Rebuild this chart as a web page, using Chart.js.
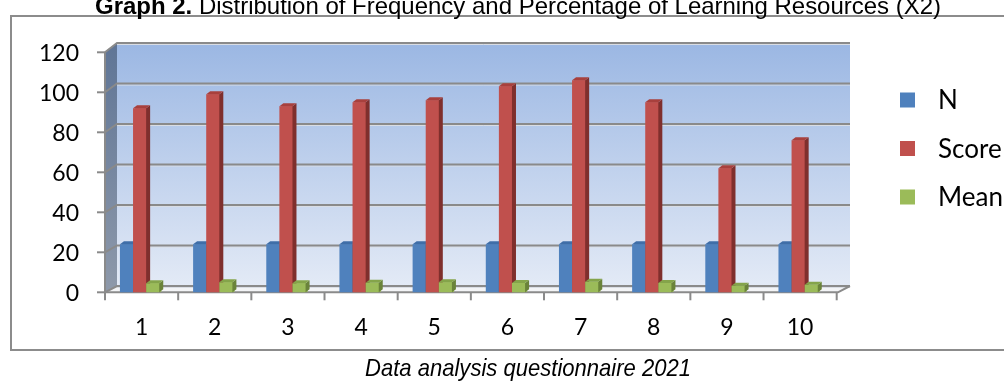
<!DOCTYPE html>
<html>
<head>
<meta charset="utf-8">
<script src="https://cdn.jsdelivr.net/npm/chart.js@4.4.1/dist/chart.umd.min.js"></script>
<style>
  html, body { margin: 0; padding: 0; background: #ffffff; overflow: hidden; }
  #wrap { position: relative; width: 1004px; height: 382px; }
</style>
</head>
<body>
<div id="wrap"><canvas id="c" width="1004" height="382"></canvas></div>
<script>
// ---- data ----
const categories = ['1', '2', '3', '4', '5', '6', '7', '8', '9', '10'];
const seriesNames = ['N', 'Score', 'Mean'];
const nValues = [24, 24, 24, 24, 24, 24, 24, 24, 24, 24];
const scoreValues = [92, 99, 93, 95, 96, 103, 106, 95, 62, 76];
const meanValues = [4.5, 5, 4.5, 4.8, 5, 4.6, 5.3, 4.6, 3.3, 3.8];
const yTickValues = [0, 20, 40, 60, 80, 100, 120];
const titleBold = 'Graph 2.';
const titleRest = ' Distribution of Frequency and Percentage of Learning Resources (X2)';
const captionText = 'Data analysis questionnaire 2021';

// ---- styling ----
const palette = {
  front: ['#4f81bd', '#c0504d', '#9bbb59'],
  top:   ['#3f6ea8', '#a8403d', '#84a44a'],
  side:  ['#385d8a', '#7f2f2d', '#6a833a']
};
const depth = { dx: 4, dy: 3 };          // bar extrusion
const shiftX = -2;                        // bars sit slightly left of the category centre
const wall = { dx: 12, backFloorY: 286, backTopY: 43 };
const axisFont = '23px Lato, "Noto Sans", sans-serif';
const legendFont = '26px Lato, "Noto Sans", sans-serif';
const narrow = '"Liberation Sans Narrow", "Liberation Sans", Arial, sans-serif';
const gridGray = '#8a8a8a';

function line(ctx, pts, color, w) {
  ctx.beginPath();
  ctx.moveTo(pts[0][0], pts[0][1]);
  for (let i = 1; i < pts.length; i++) ctx.lineTo(pts[i][0], pts[i][1]);
  ctx.strokeStyle = color;
  ctx.lineWidth = w;
  ctx.stroke();
}
function poly(ctx, pts, fill) {
  ctx.beginPath();
  ctx.moveTo(pts[0][0], pts[0][1]);
  for (let i = 1; i < pts.length; i++) ctx.lineTo(pts[i][0], pts[i][1]);
  ctx.closePath();
  ctx.fillStyle = fill;
  ctx.fill();
}
// text drawn at a fixed overall width
function fitText(ctx, parts, cx, baseline, width) {
  let total = 0;
  parts.forEach(p => { ctx.font = p.font; p.w = ctx.measureText(p.text).width; total += p.w; });
  const sx = width / total;
  ctx.save();
  ctx.translate(cx - width / 2, baseline);
  ctx.scale(sx, 1);
  let x = 0;
  ctx.textBaseline = 'alphabetic';
  ctx.textAlign = 'left';
  parts.forEach(p => { ctx.font = p.font; ctx.fillStyle = '#000'; ctx.fillText(p.text, x, 0); x += p.w; });
  ctx.restore();
}

const excel3d = {
  id: 'excel3d',
  beforeDatasetsDraw(chart) {
    const ctx = chart.ctx;
    const a = chart.chartArea;
    const ys = chart.scales.y, xs = chart.scales.x;
    const frontY0 = ys.getPixelForValue(0);
    const top120 = ys.getPixelForValue(120);
    const k = (wall.backFloorY - wall.backTopY) / (frontY0 - top120);
    const backY = v => wall.backFloorY - (frontY0 - ys.getPixelForValue(v)) * k;
    const bl = a.left + wall.dx, br = a.right + wall.dx + 1.3;
    const fr = a.right + 1.3;

    ctx.save();
    // outer frame
    line(ctx, [[1004, 16], [11, 16], [11, 350], [1004, 350]], '#8c8c8c', 2);

    // title and caption
    fitText(ctx, [
      { text: titleBold, font: 'bold 24px ' + narrow },
      { text: titleRest, font: '24px ' + narrow }
    ], 518, 14, 846);
    fitText(ctx, [{ text: captionText, font: 'italic 24px ' + narrow }], 528, 376, 326);

    // back wall
    const g = ctx.createLinearGradient(0, wall.backTopY, 0, wall.backFloorY);
    g.addColorStop(0, '#9bb7e3');
    g.addColorStop(1, '#e3eaf6');
    poly(ctx, [[bl, wall.backTopY], [br, wall.backTopY], [br, wall.backFloorY], [bl, wall.backFloorY]], g);

    // left wall
    const lg = ctx.createLinearGradient(0, wall.backTopY, 0, frontY0);
    lg.addColorStop(0, '#5f7596');
    lg.addColorStop(1, '#8e99aa');
    poly(ctx, [[a.left, top120], [bl, wall.backTopY], [bl, wall.backFloorY], [a.left, frontY0]], lg);

    // floor
    poly(ctx, [[a.left, frontY0], [bl, wall.backFloorY], [br, wall.backFloorY], [fr, frontY0]], '#f3f4f6');

    // gridlines on the back wall and left wall
    yTickValues.forEach(v => {
      const fy = ys.getPixelForValue(v);
      const by = backY(v);
      line(ctx, [[bl, by + 1.5], [br, by + 1.5]], '#d9dde4', 1);
      line(ctx, [[a.left, fy], [bl, by], [br, by]], gridGray, 2);
      line(ctx, [[a.left - 8, fy], [a.left, fy]], gridGray, 2);
    });
    // value axis line and floor front edge
    line(ctx, [[a.left, top120], [a.left, frontY0]], gridGray, 2);
    line(ctx, [[a.left, frontY0], [fr, frontY0], [br, wall.backFloorY]], gridGray, 2);

    // category ticks
    const catW = (a.right - a.left) / categories.length;
    for (let i = 0; i <= categories.length; i++) {
      const x = a.left + i * catW;
      line(ctx, [[x, frontY0], [x, frontY0 + 8]], gridGray, 2);
    }

    // tick labels
    ctx.fillStyle = '#000';
    ctx.font = axisFont;
    ctx.textAlign = 'right';
    ctx.textBaseline = 'middle';
    yTickValues.forEach(v => ctx.fillText(String(v), 79, ys.getPixelForValue(v) + 1));
    ctx.textAlign = 'center';
    ctx.textBaseline = 'alphabetic';
    categories.forEach((c, i) => ctx.fillText(c, xs.getPixelForValue(i), 335));

    // legend
    const rows = [100, 148.5, 197];
    ctx.textAlign = 'left';
    ctx.textBaseline = 'middle';
    ctx.font = legendFont;
    seriesNames.forEach((s, i) => {
      ctx.fillStyle = palette.front[i];
      ctx.fillRect(900, rows[i] - 7.5, 15, 15);
      ctx.fillStyle = '#000';
      ctx.fillText(s, 938, rows[i] + 1);
    });
    ctx.restore();
  },
  // each column gets its front, side and top faces, series by series from left to right
  afterDatasetsDraw(chart) {
    const ctx = chart.ctx;
    const a = chart.chartArea;
    ctx.save();
    ctx.beginPath();
    ctx.rect(a.left, 0, a.right - a.left + 20, chart.height);
    ctx.clip();
    ctx.translate(shiftX, 0);
    const { dx, dy } = depth;
    chart.data.datasets.forEach((ds, di) => {
      const meta = chart.getDatasetMeta(di);
      meta.data.forEach(el => {
        const p = el.getProps(['x', 'y', 'base', 'width'], true);
        const x0 = p.x - p.width / 2, x1 = p.x + p.width / 2;
        poly(ctx, [[x0, p.y], [x1, p.y], [x1, p.base], [x0, p.base]], palette.front[di]);
        poly(ctx, [[x1, p.y], [x1 + dx, p.y - dy], [x1 + dx, p.base - dy], [x1, p.base]], palette.side[di]);
        poly(ctx, [[x0, p.y], [x1, p.y], [x1 + dx, p.y - dy], [x0 + dx, p.y - dy]], palette.top[di]);
      });
    });
    ctx.restore();
  }
};

new Chart(document.getElementById('c'), {
  type: 'bar',
  data: {
    labels: categories,
    datasets: [
      { label: seriesNames[0], data: nValues, backgroundColor: palette.front[0] },
      { label: seriesNames[1], data: scoreValues, backgroundColor: palette.front[1] },
      { label: seriesNames[2], data: meanValues, backgroundColor: palette.front[2] }
    ]
  },
  options: {
    responsive: false,
    animation: false,
    devicePixelRatio: 1,
    layout: { padding: { left: 105, right: 167.3, top: 52.3, bottom: 89.7 } },
    datasets: { bar: { barPercentage: 1, categoryPercentage: 0.537, borderWidth: 0 } },
    scales: {
      x: { display: false },
      y: { display: false, min: 0, max: 120 }
    },
    plugins: { legend: { display: false }, tooltip: { enabled: false } }
  },
  plugins: [excel3d]
});
</script>
</body>
</html>
